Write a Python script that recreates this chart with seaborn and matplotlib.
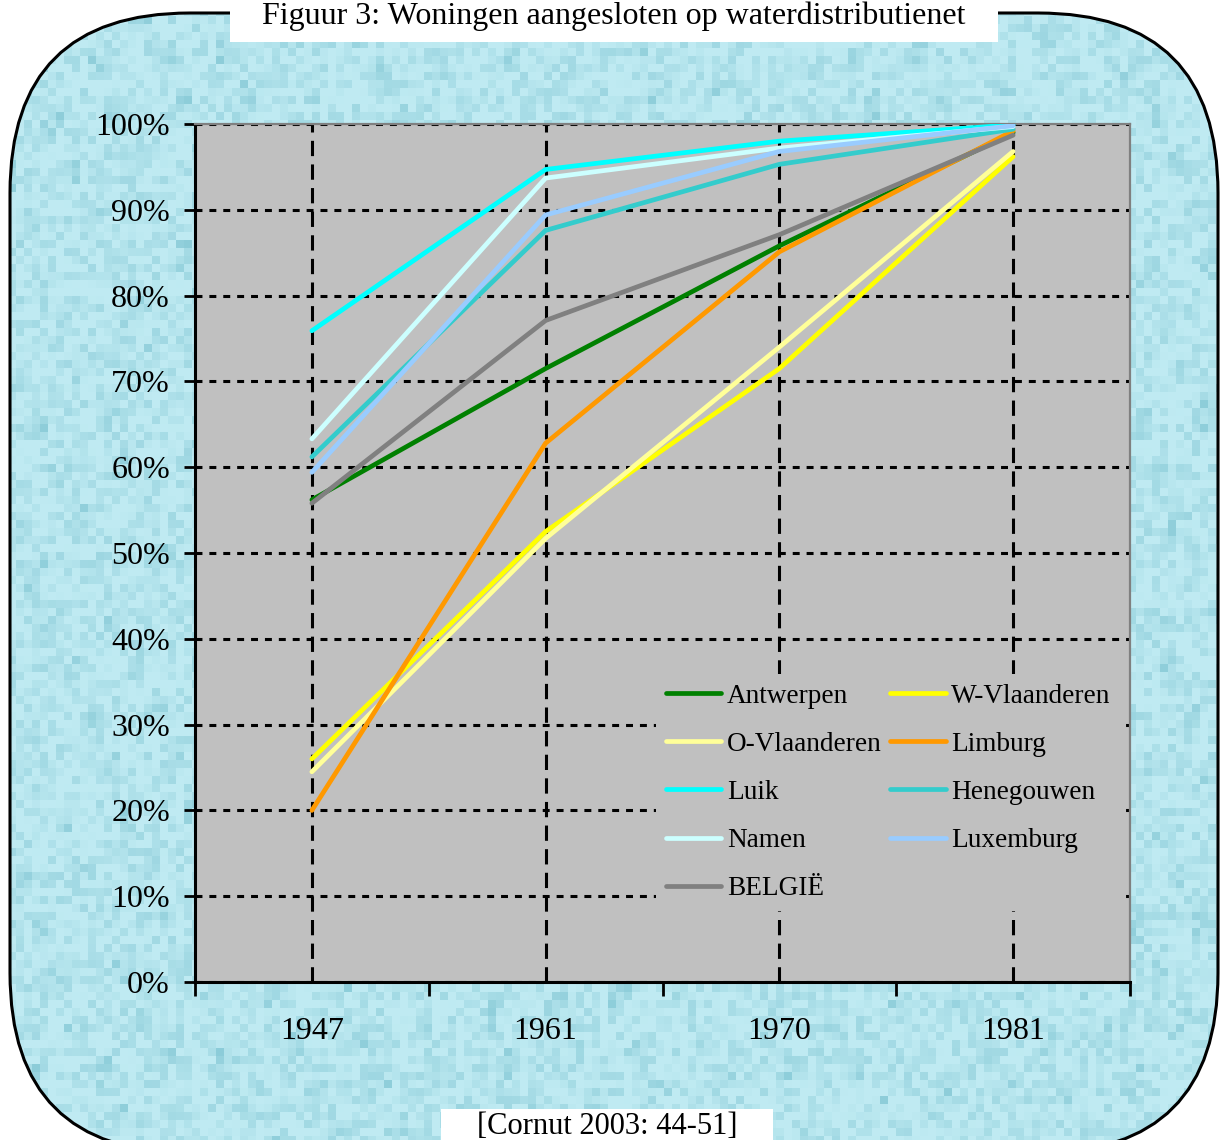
import numpy as np
import pandas as pd
import matplotlib
matplotlib.use("Agg")
import matplotlib.pyplot as plt
from matplotlib.patches import FancyBboxPatch, Rectangle
from matplotlib.lines import Line2D
import seaborn as sns

# ---- data: share of dwellings connected to the water distribution network (%)
years = ["1947", "1961", "1970", "1981"]
antwerpen = [56.2, 71.5, 85.8, 99.0]
w_vlaanderen = [26.0, 52.5, 71.5, 96.2]
o_vlaanderen = [24.5, 51.7, 74.0, 96.8]
limburg = [20.0, 62.8, 85.1, 99.2]
luik = [75.9, 94.7, 98.0, 99.9]
henegouwen = [61.2, 87.6, 95.3, 99.4]
namen = [63.3, 93.7, 97.2, 99.7]
luxemburg = [59.4, 89.4, 96.8, 99.8]
belgie = [55.8, 77.1, 87.1, 98.7]

regions = ["Antwerpen", "W-Vlaanderen", "O-Vlaanderen", "Limburg", "Luik",
           "Henegouwen", "Namen", "Luxemburg", "BELGIË"]
series = [antwerpen, w_vlaanderen, o_vlaanderen, limburg, luik,
          henegouwen, namen, luxemburg, belgie]
colors = ["#008000", "#FFFF00", "#FFFF99", "#FF9900", "#00FFFF",
          "#33CCCC", "#CCFFFF", "#99CCFF", "#808080"]

rows = []
for name, vals in zip(regions, series):
    for i, (yr, v) in enumerate(zip(years, vals)):
        rows.append({"gewest": name, "jaar": yr, "pos": i, "pct": v})
df = pd.DataFrame(rows)

plt.rcParams["font.family"] = ["Liberation Serif", "DejaVu Serif"]
plt.rcParams["lines.scale_dashes"] = False

W, H = 1220, 1140
fig = plt.figure(figsize=(W / 100, H / 100), dpi=100)
fig.patch.set_facecolor("white")

# ---- decorative water-drop background inside a rounded frame
# (pixel coordinates, origin bottom-left)
bg = fig.add_axes([0, 0, 1, 1])
bg.set_xlim(0, W)
bg.set_ylim(0, H)
bg.axis("off")

rng = np.random.default_rng(7)
bs = 8
gh, gw = H // bs + 1, W // bs + 1
base = np.array([0.75, 0.92, 0.95])
dark = np.array([0.53, 0.79, 0.84])
noise = rng.random((gh, gw))
t = np.clip((noise - 0.30) / 0.70, 0, 1) ** 1.5
yy, xx = np.mgrid[0:gh, 0:gw]
drops = (np.sin(xx * 0.8 + yy * 0.2) * np.sin(yy * 0.5 + xx * 0.07) > 0.5).astype(float)
t = np.clip(0.55 * t + 0.4 * drops * rng.random((gh, gw)), 0, 1)
tex = base[None, None, :] * (1 - t[..., None]) + dark[None, None, :] * t[..., None]
tex = np.repeat(np.repeat(tex, bs, axis=0), bs, axis=1)[:H, :W]

frame = FancyBboxPatch((10, -13), 1208, 1140, boxstyle="round,pad=0,rounding_size=180",
                       facecolor="none", edgecolor="black", linewidth=2.2, zorder=3)
bg.add_patch(frame)
im = bg.imshow(tex, extent=(0, W, 0, H), origin="upper", interpolation="nearest",
               zorder=1, aspect="auto")
im.set_clip_path(frame)

# title and source boxes
bg.add_patch(Rectangle((230, H - 42), 768, 44, facecolor="white", edgecolor="none", zorder=4))
bg.text(614, H - 16, "Figuur 3: Woningen aangesloten op waterdistributienet",
        ha="center", va="center", fontsize=23, zorder=5)
bg.add_patch(Rectangle((441, -5), 332, H - 1109 + 5, facecolor="white", edgecolor="none", zorder=4))
bg.text(607, H - 1127, "[Cornut 2003: 44-51]", ha="center", va="center", fontsize=22, zorder=5)

# ---- main chart
ax = fig.add_axes([195 / W, 1 - 982 / H, (1130 - 195) / W, (982 - 124) / H])
ax.set_facecolor("#C0C0C0")

sns.lineplot(data=df, x="pos", y="pct", hue="gewest", hue_order=regions,
             palette=dict(zip(regions, colors)), linewidth=3.4, legend=False,
             sort=False, ax=ax, zorder=3)
for ln in ax.get_lines():
    ln.set_solid_capstyle("round")

ax.set_xlim(-0.5, len(years) - 0.5)
ax.set_ylim(0, 100)
ax.set_xlabel("")
ax.set_ylabel("")

# category boundaries carry the ticks, category centres carry the labels
ax.set_xticks(np.arange(len(years) + 1) - 0.5)
ax.set_xticklabels([])
ax.set_xticks(np.arange(len(years)), minor=True)
ax.set_xticklabels(years, minor=True, fontsize=23)
ax.tick_params(axis="x", which="major", direction="out", length=10, width=2, color="black")
ax.tick_params(axis="x", which="minor", length=0, pad=25)

ax.set_yticks(np.arange(0, 101, 10))
ax.set_yticklabels([f"{v}%" for v in range(0, 101, 10)], fontsize=23)
ax.tick_params(axis="y", direction="out", length=8, width=2, pad=10, color="black")

ax.grid(False)
ax.xaxis.grid(True, which="minor", color="black", linewidth=2.2, linestyle=(0, (11, 6)))
ax.yaxis.grid(True, which="major", color="black", linewidth=2.2, linestyle=(0, (5, 5)))
ax.set_axisbelow(True)

for side in ("left", "bottom"):
    ax.spines[side].set_color("black")
    ax.spines[side].set_linewidth(2.2)
for side in ("top", "right"):
    ax.spines[side].set_color("#808080")
    ax.spines[side].set_linewidth(1.6)

# legend laid out row by row: two columns
handles = {r: Line2D([], [], color=c, linewidth=3.4, solid_capstyle="round")
           for r, c in zip(regions, colors)}
col1 = ["Antwerpen", "O-Vlaanderen", "Luik", "Namen", "BELGIË"]
col2 = ["W-Vlaanderen", "Limburg", "Henegouwen", "Luxemburg"]
order = col1 + col2
leg = ax.legend([handles[r] for r in order], order, ncol=2, loc="upper left",
                bbox_to_anchor=(656 / W, 1 - 674 / H), bbox_transform=fig.transFigure,
                fontsize=19.6, frameon=True, facecolor="#C0C0C0", edgecolor="none",
                framealpha=1, fancybox=False, borderpad=0.35, handlelength=2.05,
                handletextpad=0.2, columnspacing=0.3, labelspacing=0.85,
                borderaxespad=0)
leg.set_zorder(5)

fig.savefig("out.png", dpi=100)
